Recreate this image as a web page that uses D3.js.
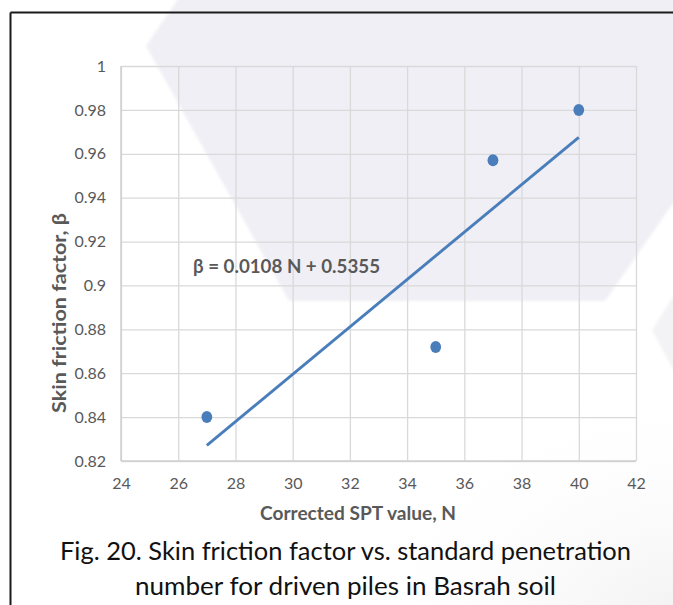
<!DOCTYPE html>
<html>
<head>
<meta charset="utf-8">
<script src="https://cdn.jsdelivr.net/npm/d3@7"></script>
<style>
  html, body { margin: 0; padding: 0; background: #ffffff; }
  svg { display: block; }
</style>
</head>
<body>
<svg id="chart" width="673" height="605"></svg>
<script>
// Measured skin friction factor against corrected SPT value
const nValues = [27, 35, 37, 40];
const betaValues = [0.840, 0.872, 0.957, 0.980];

// Axis ticks
const xTickValues = [24, 26, 28, 30, 32, 34, 36, 38, 40, 42];
const yTickValues = [0.82, 0.84, 0.86, 0.88, 0.90, 0.92, 0.94, 0.96, 0.98, 1.00];
const yTickLabels = ["0.82", "0.84", "0.86", "0.88", "0.9", "0.92", "0.94", "0.96", "0.98", "1"];

// Linear trend line: beta = slope * N + intercept
const trendSlope = 0.0108;
const trendIntercept = 0.5355;
const equationLabel = "β = 0.0108 N + 0.5355";

const xTitle = "Corrected SPT value, N";
const yTitle = "Skin friction factor, β";
const captionLines = [
  "Fig. 20. Skin friction factor vs. standard penetration",
  "number for driven piles in Basrah soil"
];

const FONT = "'Lato', 'Liberation Sans', sans-serif";
const GREY_TEXT = "#595959";
const GRID = "#d9d9d9";
const BLUE = "#4a7ebb";

const svg = d3.select("#chart");

// ---- page background: faint watermark shapes ----
const defs = svg.append("defs");
defs.append("filter").attr("id", "soft")
  .append("feGaussianBlur").attr("stdDeviation", 1.5);
const rg = defs.append("radialGradient").attr("id", "cornerShade")
  .attr("cx", 0.5).attr("cy", 0.5).attr("r", 0.5);
rg.append("stop").attr("offset", "0%").attr("stop-color", "#efeff1").attr("stop-opacity", 1);
rg.append("stop").attr("offset", "100%").attr("stop-color", "#ffffff").attr("stop-opacity", 0);

svg.append("rect").attr("width", 673).attr("height", 605).attr("fill", "#ffffff");
svg.append("ellipse").attr("cx", 700).attr("cy", 640).attr("rx", 360).attr("ry", 260)
  .attr("fill", "url(#cornerShade)");

const hexagon = [[180, -4], [146, 46], [289, 301], [605, 301], [692, 176], [692, -4]];
svg.append("polygon")
  .attr("points", hexagon.map(p => p.join(",")).join(" "))
  .attr("fill", "#f0eff5")
  .attr("filter", "url(#soft)");

const sideMark = [[652, 330], [690, 270], [690, 400]];
svg.append("polygon")
  .attr("points", sideMark.map(p => p.join(",")).join(" "))
  .attr("fill", "#f3f3f5")
  .attr("filter", "url(#soft)");

// ---- frame lines ----
svg.append("line").attr("x1", 10.5).attr("x2", 673).attr("y1", 12.5).attr("y2", 12.5)
  .attr("stroke", "#1a1a1a").attr("stroke-width", 2);
svg.append("line").attr("x1", 10.5).attr("x2", 10.5).attr("y1", 12.5).attr("y2", 605)
  .attr("stroke", "#1a1a1a").attr("stroke-width", 2);

// ---- scales ----
const plot = { left: 121, right: 636, top: 66, bottom: 461 };
const x = d3.scaleLinear().domain([24, 42]).range([plot.left, plot.right]);
const y = d3.scaleLinear().domain([0.82, 1.0]).range([plot.bottom, plot.top]);

// ---- grid ----
const gridY = svg.append("g").attr("transform", `translate(${plot.left},0)`)
  .call(d3.axisLeft(y).tickValues(yTickValues).tickSize(-(plot.right - plot.left)).tickFormat(""));
const gridX = svg.append("g").attr("transform", `translate(0,${plot.bottom})`)
  .call(d3.axisBottom(x).tickValues(xTickValues).tickSize(-(plot.bottom - plot.top)).tickFormat(""));
[gridY, gridX].forEach(g => {
  g.select(".domain").remove();
  g.selectAll(".tick line").attr("stroke", GRID).attr("stroke-width", 1.3);
});
// axis lines
svg.append("line").attr("x1", plot.left).attr("x2", plot.right)
  .attr("y1", plot.bottom).attr("y2", plot.bottom)
  .attr("stroke", "#cfcfcf").attr("stroke-width", 1.5);
svg.append("line").attr("x1", plot.left).attr("x2", plot.left)
  .attr("y1", plot.top).attr("y2", plot.bottom)
  .attr("stroke", "#cfcfcf").attr("stroke-width", 1.5);

// ---- tick labels ----
const yAxis = svg.append("g").attr("transform", `translate(${plot.left},0)`)
  .call(d3.axisLeft(y).tickValues(yTickValues).tickSize(0).tickPadding(15)
    .tickFormat((d, i) => yTickLabels[i]));
const xAxis = svg.append("g").attr("transform", `translate(0,${plot.bottom})`)
  .call(d3.axisBottom(x).tickValues(xTickValues).tickSize(0).tickPadding(17));
[yAxis, xAxis].forEach(g => {
  g.select(".domain").remove();
  g.selectAll("text").attr("fill", GREY_TEXT)
    .style("font-family", FONT).style("font-size", "16px");
});

// ---- trend line ----
const trendDomain = d3.extent(nValues);
svg.append("path")
  .datum(trendDomain.map(n => [n, trendSlope * n + trendIntercept]))
  .attr("d", d3.line().x(d => x(d[0])).y(d => y(d[1])))
  .attr("fill", "none").attr("stroke", BLUE).attr("stroke-width", 2.9);

// ---- data points ----
svg.append("g").selectAll("ellipse")
  .data(nValues.map((n, i) => ({ n, b: betaValues[i] })))
  .join("ellipse")
  .attr("cx", d => x(d.n)).attr("cy", d => y(d.b))
  .attr("rx", 5.4).attr("ry", 6)
  .attr("fill", BLUE);

// ---- equation ----
svg.append("text")
  .attr("x", 193).attr("y", 273)
  .attr("textLength", 187).attr("lengthAdjust", "spacingAndGlyphs")
  .style("font-family", FONT).style("font-size", "19.5px").style("font-weight", "bold")
  .attr("fill", GREY_TEXT)
  .text(equationLabel);

// ---- axis titles ----
svg.append("text")
  .attr("x", 358).attr("y", 520).attr("text-anchor", "middle")
  .attr("textLength", 196).attr("lengthAdjust", "spacingAndGlyphs")
  .style("font-family", FONT).style("font-size", "19.5px").style("font-weight", "bold")
  .attr("fill", GREY_TEXT)
  .text(xTitle);

svg.append("text")
  .attr("transform", "translate(66,313) rotate(-90)")
  .attr("text-anchor", "middle")
  .attr("textLength", 200).attr("lengthAdjust", "spacingAndGlyphs")
  .style("font-family", FONT).style("font-size", "19.5px").style("font-weight", "bold")
  .attr("fill", GREY_TEXT)
  .text(yTitle);

// ---- caption ----
const captionWidths = [571, 421];
const captionBase = [560, 595];
svg.append("g").selectAll("text")
  .data(captionLines)
  .join("text")
  .attr("x", 345.5).attr("y", (d, i) => captionBase[i]).attr("text-anchor", "middle")
  .attr("textLength", (d, i) => captionWidths[i]).attr("lengthAdjust", "spacingAndGlyphs")
  .style("font-family", FONT).style("font-size", "25px")
  .attr("fill", "#111111")
  .text(d => d);
</script>
</body>
</html>
